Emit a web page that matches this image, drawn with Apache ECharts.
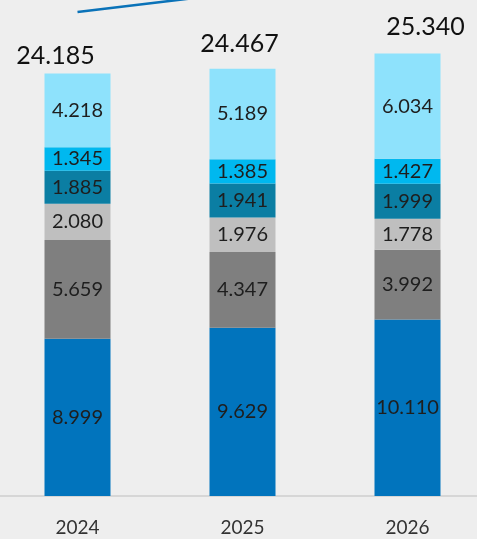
<!DOCTYPE html>
<html>
<head>
<meta charset="utf-8">
<script src="https://cdn.jsdelivr.net/npm/echarts@6/dist/echarts.min.js"></script>
<style>
  html, body { margin: 0; padding: 0; background: #eeeeee; }
  #chart { width: 477px; height: 539px; }
</style>
</head>
<body>
<div id="chart"></div>
<script>
  const years = ["2024", "2025", "2026"];
  const segBase = [8999, 9629, 10110];
  const segGray = [5659, 4347, 3992];
  const segLightGray = [2080, 1976, 1778];
  const segTeal = [1885, 1941, 1999];
  const segCyan = [1345, 1385, 1427];
  const segLightCyan = [4218, 5189, 6034];
  const totals = [24185, 24467, 25340];
  const trendLine = [99, 103, null];

  const chart = echarts.init(document.getElementById("chart"));
  const font = "Lato, 'Open Sans', sans-serif";

  function fmt(v) {
    return String(v).replace(/\B(?=(\d{3})+(?!\d))/g, ".");
  }

  function segment(name, data, color) {
    return {
      name: name,
      type: "bar",
      stack: "total",
      barWidth: 66,
      data: data,
      itemStyle: { color: color },
      label: {
        show: true,
        position: "inside",
        fontFamily: font,
        fontSize: 20,
        color: "#1e1e1e",
        formatter: (p) => fmt(p.value),
      },
    };
  }

  // totals were placed by hand in the original, so nudge each one
  const totalOffsets = [[-22, 0], [-3, -7], [18, -9]];

  chart.setOption({
    animation: false,
    backgroundColor: "#eeeeee",
    grid: { left: -5, width: 495, top: 7, bottom: 43, outerBoundsMode: "none" },
    xAxis: {
      type: "category",
      data: years,
      axisTick: { show: false },
      axisLine: { lineStyle: { color: "#d6d6d6", width: 2 } },
      axisLabel: { color: "#333333", fontFamily: font, fontSize: 19, margin: 22 },
    },
    yAxis: [
      { type: "value", min: 0, max: 28000, show: false },
      { type: "value", min: 0, max: 100, show: false },
    ],
    series: [
      segment("base", segBase, "#0174bd"),
      segment("gray", segGray, "#7f7f7f"),
      segment("lightgray", segLightGray, "#bfbfbf"),
      segment("teal", segTeal, "#0b7ea3"),
      segment("cyan", segCyan, "#00b8ef"),
      segment("lightcyan", segLightCyan, "#8ee2fc"),
      {
        name: "total",
        type: "bar",
        barWidth: 66,
        barGap: "-100%",
        data: totals.map((v, i) => ({
          value: v,
          label: { offset: totalOffsets[i] },
        })),
        itemStyle: { color: "transparent" },
        z: 1,
        label: {
          show: true,
          position: "top",
          fontFamily: font,
          fontSize: 25,
          color: "#111111",
          formatter: (p) => fmt(p.value),
        },
      },
      {
        name: "trend",
        type: "line",
        yAxisIndex: 1,
        data: trendLine,
        clip: false,
        symbol: "none",
        lineStyle: { color: "#0a72b8", width: 2.5 },
      },
    ],
  });
</script>
</body>
</html>
